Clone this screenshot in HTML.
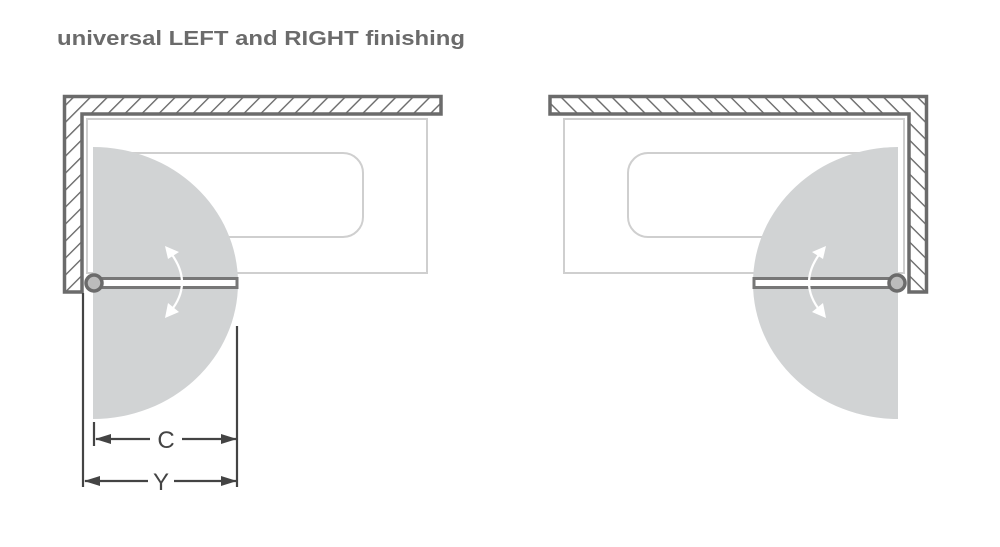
<!DOCTYPE html>
<html><head><meta charset="utf-8"><style>
html,body{margin:0;padding:0;background:#fff;}
svg{display:block}
</style></head><body>
<svg width="1000" height="547" viewBox="0 0 1000 547" xmlns="http://www.w3.org/2000/svg">
<defs>
<pattern id="h" patternUnits="userSpaceOnUse" width="12" height="12" patternTransform="rotate(45)">
<rect width="12" height="12" fill="#fff"/>
<line x1="0" y1="0" x2="0" y2="12" stroke="#6b6b6b" stroke-width="2.8"/>
</pattern>
<marker id="ar" markerWidth="16" markerHeight="10" refX="15" refY="5" orient="auto" markerUnits="userSpaceOnUse">
<path d="M0,0 L16,5 L0,10 z" fill="#444"/>
</marker>
<g id="unit">
<path d="M64.5,96.5 H441 V114 H82 V292 H64.5 Z" fill="url(#h)" stroke="#6b6b6b" stroke-width="3.5"/>
<rect x="87" y="119" width="340" height="154" fill="none" stroke="#cfcfcf" stroke-width="2"/>
<path d="M95,153 H343 A20,20 0 0 1 363,173 V217 A20,20 0 0 1 343,237 H95" fill="none" stroke="#cfcfcf" stroke-width="2"/>
<path d="M93,147 A145,136 0 0 1 93,419 Z" fill="#d1d3d4"/>
<rect x="93" y="278.5" width="144" height="9" fill="#fff" stroke="#777" stroke-width="3"/>
<circle cx="94" cy="283" r="8" fill="#bcbcbc" stroke="#6b6b6b" stroke-width="3.5"/>
<path d="M170,252 Q194,283 170,312" fill="none" stroke="#fff" stroke-width="2.2"/>
<path d="M165,246 L179,252 L168,259 z" fill="#fff"/>
<path d="M165,318 L168,303 L179,312 z" fill="#fff"/>
</g>
</defs>
<text x="57" y="45" font-family="Liberation Sans, sans-serif" font-weight="bold" font-size="20" fill="#6b6b6b" textLength="408" lengthAdjust="spacingAndGlyphs">universal LEFT and RIGHT finishing</text>
<use href="#unit"/>
<use href="#unit" transform="translate(991,0) scale(-1,1)"/>
<g stroke="#444" stroke-width="2.2" fill="none">
<line x1="83" y1="293" x2="83" y2="487"/>
<line x1="237" y1="326" x2="237" y2="487"/>
<line x1="94" y1="422" x2="94" y2="446"/>
<line x1="96" y1="439" x2="150" y2="439" marker-end="url(#ar)" transform="rotate(180 123 439)"/>
<line x1="182" y1="439" x2="236" y2="439" marker-end="url(#ar)"/>
<line x1="85" y1="481" x2="148" y2="481" marker-end="url(#ar)" transform="rotate(180 116.5 481)"/>
<line x1="174" y1="481" x2="236" y2="481" marker-end="url(#ar)"/>
</g>
<text x="166" y="448" text-anchor="middle" font-family="Liberation Sans, sans-serif" font-size="24" fill="#444">C</text>
<text x="161" y="490" text-anchor="middle" font-family="Liberation Sans, sans-serif" font-size="24" fill="#444">Y</text>
</svg>
</body></html>
